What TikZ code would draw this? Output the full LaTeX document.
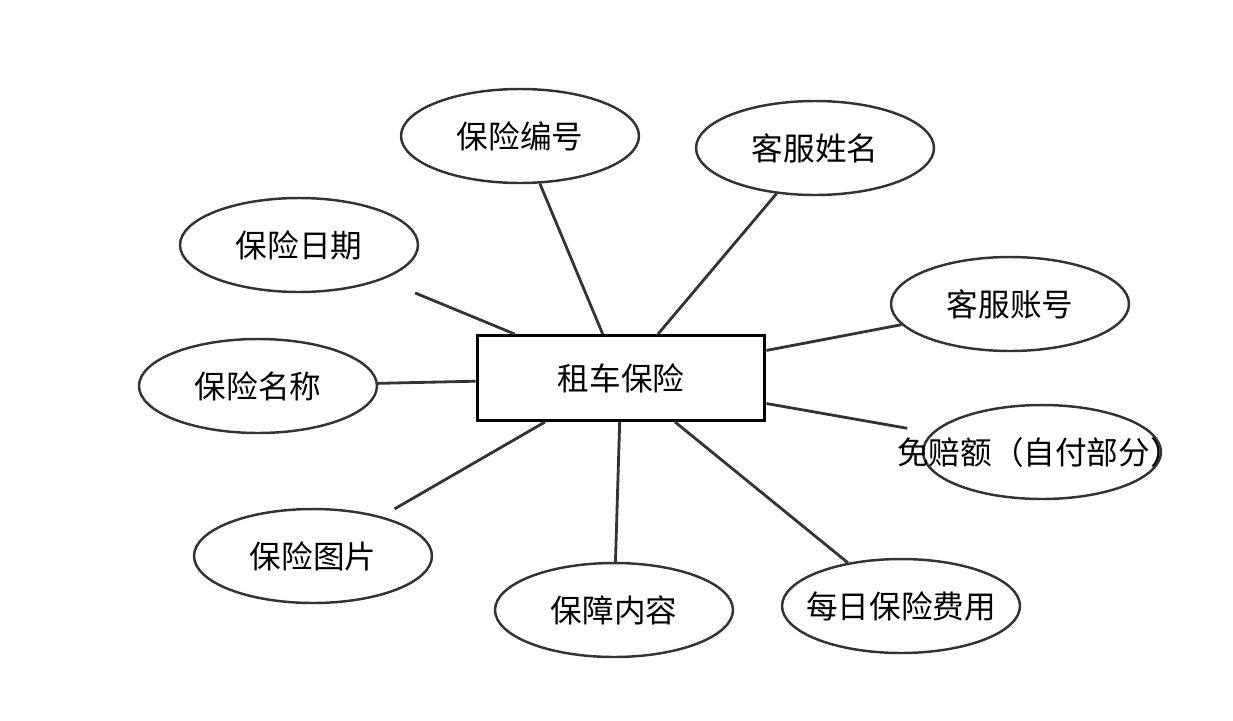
\documentclass[tikz,border=0pt]{standalone}
\usepackage{fontspec}
\setmainfont{Noto Sans CJK SC}
\usetikzlibrary{shapes.geometric}

\begin{document}
\begin{tikzpicture}[x=0.02cm, y=-0.02cm,
    entity/.style={draw=black, line width=1.7pt, rectangle, minimum width=5.76cm, minimum height=1.7cm, font=\fontsize{18}{20}\selectfont},
    attr/.style={draw=black!80, line width=1.4pt, ellipse, minimum width=4.76cm, minimum height=1.88cm, inner sep=0pt, font=\fontsize{18}{20}\selectfont},
    link/.style={draw=black!80, line width=1.6pt}]
    \useasboundingbox (0,0) rectangle (1233,720);

    % Entity
    \node[entity] (rental_insurance) at (621,378) {租车保险};

    % Attributes
    \node[attr] (insurance_no) at (520,136) {保险编号};
    \node[attr] (agent_name) at (815,148) {客服姓名};
    \node[attr] (insurance_date) at (299,245) {保险日期};
    \node[attr] (agent_account) at (1010,304) {客服账号};
    \node[attr] (insurance_name) at (258,386) {保险名称};
    \node[attr] (deductible) at (1042,452) {\makebox[0pt]{\hspace{-0.1cm}免赔额（自付部分）}};
    \node[attr] (insurance_image) at (313,556) {保险图片};
    \node[attr] (coverage) at (614,610) {保障内容};
    \node[attr] (daily_fee) at (901,606) {\makebox[0pt]{每日保险费用}};

    % Links
    \draw[link] (insurance_no) -- (rental_insurance);
    \draw[link] (agent_name) -- (rental_insurance);
    \draw[link, shorten <=0.7cm] (insurance_date) -- (rental_insurance);
    \draw[link] (agent_account) -- (rental_insurance);
    \draw[link] (insurance_name) -- (rental_insurance);
    \draw[link, shorten <=0.5cm] (deductible) -- (rental_insurance);
    \draw[link, shorten <=0.3cm] (insurance_image) -- (rental_insurance);
    \draw[link] (coverage) -- (rental_insurance);
    \draw[link] (daily_fee) -- (rental_insurance);
\end{tikzpicture}
\end{document}
